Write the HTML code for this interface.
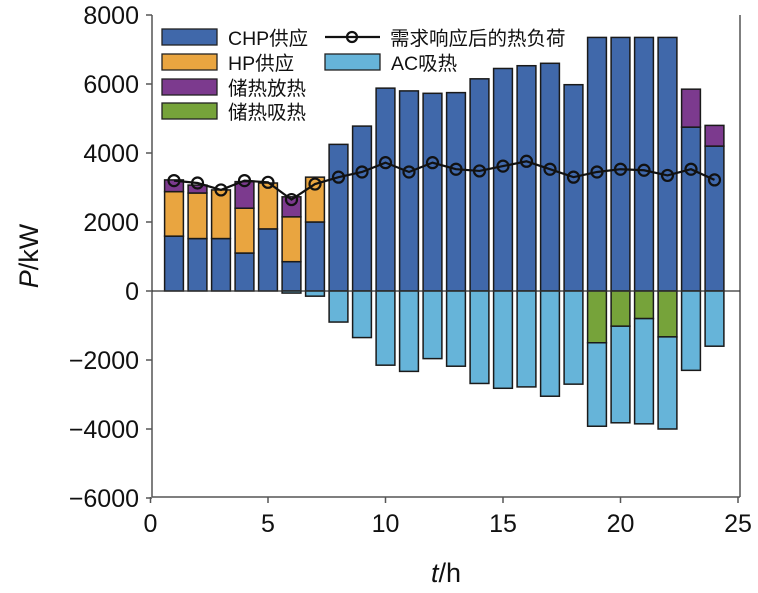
<!DOCTYPE html>
<html><head><meta charset="utf-8"><style>
body{margin:0;background:#fff;}
svg text{font-family:"Liberation Sans","Noto Sans CJK SC",sans-serif;}
</style></head><body>
<svg id="chart" width="758" height="588" xmlns="http://www.w3.org/2000/svg">
<g id="bars"></g>
<g id="axes"></g>
<g id="legend"></g>
</svg>
<script>
const hours=[1,2,3,4,5,6,7,8,9,10,11,12,13,14,15,16,17,18,19,20,21,22,23,24];
const chp=[1590,1520,1520,1100,1800,850,2000,4250,4780,5880,5800,5730,5750,6150,6450,6530,6600,5980,7350,7350,7350,7350,4750,4200];
const hp=[1290,1320,1410,1300,1330,1300,1300,0,0,0,0,0,0,0,0,0,0,0,0,0,0,0,0,0];
const release=[340,230,0,770,0,580,0,0,0,0,0,0,0,0,0,0,0,0,0,0,0,0,1100,600];
const absorb=[0,0,0,0,0,0,0,0,0,0,0,0,0,0,0,0,0,0,1500,1020,800,1330,0,0];
const ac=[0,0,0,0,0,60,150,900,1350,2150,2330,1960,2180,2680,2820,2780,3050,2700,2420,2800,3050,2670,2300,1600];
const load=[3200,3130,2930,3200,3150,2650,3100,3300,3450,3720,3450,3720,3530,3480,3620,3760,3530,3300,3450,3530,3500,3350,3530,3220];
const xTicks=[0,5,10,15,20,25];
const yTicks=[-6000,-4000,-2000,0,2000,4000,6000,8000];

const NS="http://www.w3.org/2000/svg";
const X=v=>150.5+v*23.5;
const Y=v=>291-v*69/2000;
const colors={chp:"#4068aa",hp:"#e9a540",rel:"#7c3a8e",abs:"#76a33a",ac:"#66b4d9"};
function mk(tag,attrs,parent){const e=document.createElementNS(NS,tag);for(const k in attrs)e.setAttribute(k,attrs[k]);parent.appendChild(e);return e;}
const bars=document.getElementById('bars'),axes=document.getElementById('axes'),legend=document.getElementById('legend');
const bw=0.8*23.5;
function seg(h,lo,hi,col,name){
  if(hi-lo<=0)return;
  const r=mk('rect',{x:X(h)-bw/2,y:Y(hi),width:bw,height:Y(lo)-Y(hi),fill:col,stroke:'#1a1a1a','stroke-width':1.5},bars);
  
  
}
hours.forEach((h,i)=>{
  seg(h,0,chp[i],colors.chp,'chp-bar-'+h);
  seg(h,chp[i],chp[i]+hp[i],colors.hp,'hp-bar-'+h);
  seg(h,chp[i]+hp[i],chp[i]+hp[i]+release[i],colors.rel,'release-bar-'+h);
  seg(h,-absorb[i],0,colors.abs,'absorb-bar-'+h);
  seg(h,-absorb[i]-ac[i],-absorb[i],colors.ac,'ac-bar-'+h);
});
mk('line',{x1:152,y1:Y(8000),x2:152,y2:497,stroke:'#555','stroke-width':1.5},axes);
mk('line',{x1:152,y1:497,x2:740,y2:497,stroke:'#555','stroke-width':1.5},axes);
mk('line',{x1:740,y1:Y(8000),x2:740,y2:497,stroke:'#555','stroke-width':1.5},axes);
mk('line',{x1:152,y1:Y(0),x2:740,y2:Y(0),stroke:'#333','stroke-width':1.2},axes);
yTicks.forEach(v=>{
  mk('line',{x1:146,y1:Y(v),x2:152,y2:Y(v),stroke:'#555','stroke-width':1.5},axes);
  const t=mk('text',{x:139,y:Y(v)+9,'text-anchor':'end','font-size':25,fill:'#111'},axes);
  t.textContent=v<0?'\u2212'+(-v):v;
  
  
});
xTicks.forEach(v=>{
  mk('line',{x1:X(v),y1:497,x2:X(v),y2:503,stroke:'#555','stroke-width':1.5},axes);
  const t=mk('text',{x:X(v),y:532,'text-anchor':'middle','font-size':25,fill:'#111'},axes);
  t.textContent=v;
  
  
});
const yt=mk('text',{x:0,y:0,transform:'translate(38,256) rotate(-90)','text-anchor':'middle','font-size':27,fill:'#111'},axes);
yt.innerHTML='<tspan font-style="italic">P</tspan>/kW';


const xt=mk('text',{x:446,y:582,'text-anchor':'middle','font-size':27,fill:'#111'},axes);
xt.innerHTML='<tspan font-style="italic">t</tspan>/h';


const pts=hours.map((h,i)=>X(h)+','+Y(load[i])).join(' ');
const pl=mk('polyline',{points:pts,fill:'none',stroke:'#111','stroke-width':2.2},bars);


hours.forEach((h,i)=>{
  const c=mk('circle',{cx:X(h),cy:Y(load[i]),r:5.5,fill:'none',stroke:'#111','stroke-width':2.2},bars);
  
  
});
const items=[[162,29,colors.chp,'CHP供应'],[162,54,colors.hp,'HP供应'],[162,79,colors.rel,'储热放热'],[162,103,colors.abs,'储热吸热'],[325,54,colors.ac,'AC吸热']];
items.forEach(it=>{
  const r=mk('rect',{x:it[0],y:it[1],width:55,height:16,fill:it[2],stroke:'#222','stroke-width':1.3},legend);
  
  
  const t=mk('text',{x:it[0]+66,y:it[1]+16,'font-size':19.5,fill:'#111'},legend);
  t.textContent=it[3];
  
  
});
mk('line',{x1:325,y1:37,x2:380,y2:37,stroke:'#111','stroke-width':2.2},legend);
mk('circle',{cx:352,cy:37,r:5,fill:'none',stroke:'#111','stroke-width':2.2},legend);
const lt=mk('text',{x:390,y:45,'font-size':19.5,fill:'#111'},legend);
lt.textContent='需求响应后的热负荷';


</script>
</body></html>
